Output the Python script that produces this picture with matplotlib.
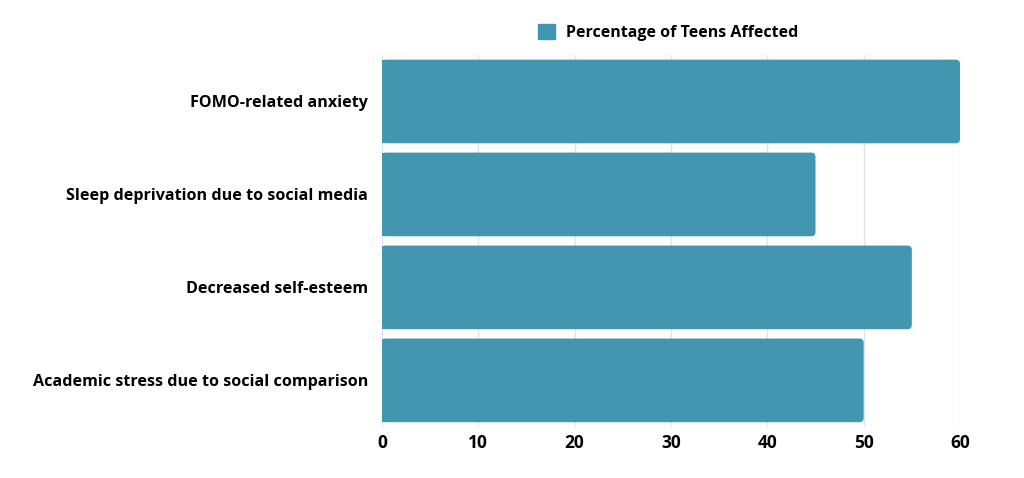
import matplotlib.pyplot as plt
from matplotlib.patches import FancyBboxPatch, Patch

# data
categories = ["FOMO-related anxiety",
              "Sleep deprivation due to social media",
              "Decreased self-esteem",
              "Academic stress due to social comparison"]
values = [60, 45, 55, 50]
series_name = "Percentage of Teens Affected"
bar_color = "#4396b0"

plt.rcParams['font.family'] = ['Open Sans', 'DejaVu Sans']

fig = plt.figure(figsize=(10.24, 4.78), dpi=100)
ax = fig.add_axes([0.373, 0.107, 0.5645, 0.778])

ypos = list(range(len(categories)))
h = 0.9
# px per unit, to keep corner rounding circular
xpx = 0.5645 * 1024 / 60
ypx = 0.778 * 478 / 4
for y, v in zip(ypos, values):
    ax.barh(y, v / 2, height=h, color=bar_color, zorder=2)
    ax.add_patch(FancyBboxPatch((0, y - h / 2), v, h,
                                boxstyle="round,pad=0,rounding_size=0.45",
                                mutation_aspect=xpx / ypx,
                                facecolor=bar_color, edgecolor='none', zorder=2))

ax.set_xlim(0, 60)
ax.set_ylim(len(categories) - 0.5, -0.5)
ax.set_yticks(ypos)
ax.set_yticklabels(categories, fontsize=11.6, fontweight='bold')
ax.set_xticks(range(0, 61, 10))
ax.tick_params(axis='x', labelsize=12.5, length=0, pad=5)
ax.tick_params(axis='y', length=0, pad=10)
for lab in ax.get_xticklabels():
    lab.set_fontweight('bold')
ax.grid(axis='x', color='#e3e3e3', linewidth=1, zorder=0)
ax.set_axisbelow(True)
for s in ax.spines.values():
    s.set_visible(False)

ax.legend(handles=[Patch(color=bar_color, label=series_name)],
          loc='center', bbox_to_anchor=(0.495, 1.06), frameon=False,
          prop={'weight': 'bold', 'size': 11.5},
          handlelength=1.1, handleheight=1.1, handletextpad=0.7)

fig.savefig("out.png", dpi=100, facecolor='white')
